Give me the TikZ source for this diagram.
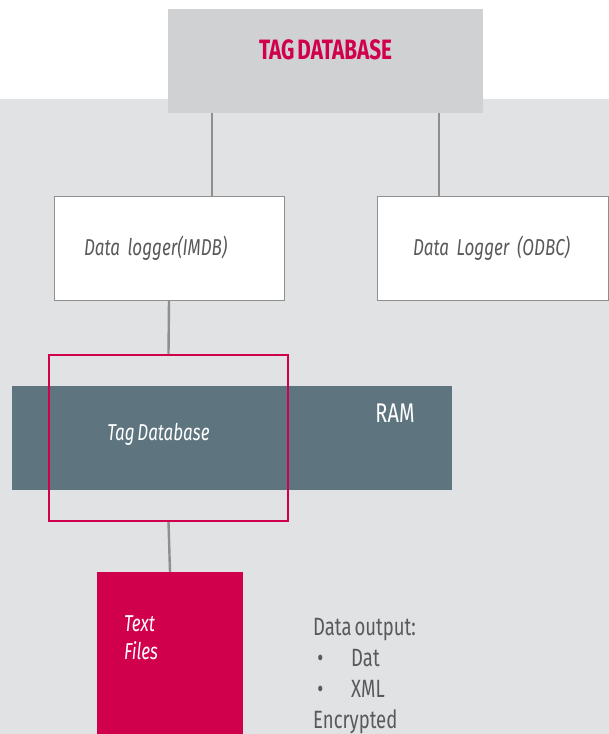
\documentclass[tikz,border=0pt]{standalone}
\usepackage{fontspec}
\setmainfont[FakeStretch=0.74,WordSpace=0.6]{Fira Sans}
\usepackage{xcolor}
\usepackage{tikz}
\usetikzlibrary{positioning}
\definecolor{Crimson}{HTML}{D1004C}
\definecolor{TopGrey}{HTML}{D0D1D3}
\definecolor{PanelGrey}{HTML}{E1E2E4}
\definecolor{RamSlate}{HTML}{5E7580}
\definecolor{WireGrey}{HTML}{8F8F8F}
\definecolor{TextGrey}{HTML}{58595B}

\begin{document}
\begin{tikzpicture}[x=1pt,y=-1pt,
    bx/.style={rectangle,inner sep=0pt,minimum width=#1},
    logbox/.style={bx=230pt,minimum height=104pt,fill=white,draw=WireGrey,line width=0.8pt,
               text=TextGrey,align=left,font=\fontsize{23}{28}\selectfont\itshape},
    lbl/.style={inner sep=0pt,font=\fontsize{#1}{#1}\selectfont},
    ilbl/.style={inner sep=0pt,font=\fontsize{#1}{#1}\selectfont\itshape},
    wire/.style={line width=2.4pt,WireGrey}]
\useasboundingbox (0,0) rectangle (609,734);
\fill[PanelGrey] (0,99) rectangle (609,734);
% top box
\node[bx=315pt,minimum height=104pt,fill=TopGrey] (top) at (325.5,61) {};
\node[inner sep=0pt,font=\fontsize{28}{28}\selectfont\bfseries,text=Crimson] (title) at ([yshift=11]top.center) {TAG DATABASE};
% loggers
\node[logbox,inner xsep=30pt,text width=170pt] (log1) at (169,248) {Data logger(IMDB)};
\node[logbox,minimum width=231pt,inner xsep=36pt,text width=159pt] (log2) at (492.5,248) {Data Logger (ODBC)};
\draw[wire] ([xshift=-113.5]top.south) -- ([xshift=43]log1.north);
\draw[wire] ([xshift=113.5]top.south) -- ([xshift=-53.5]log2.north);
% ram + tag database
\node[bx=440pt,minimum height=104pt,fill=RamSlate] (ram) at (232,438) {};
\node[lbl=27,text=white] (ramtxt) at (395,413) {RAM};
\node[bx=239pt,minimum height=166pt,draw=Crimson,line width=2pt] (frame) at (168.5,438) {};
\node[ilbl=23,text=white] (tagdb) at (158.5,434) {Tag Database};
\draw[wire] (log1.south) -- (frame.north);
% files
\node[bx=146pt,minimum height=162pt,fill=Crimson] (files) at (170,653) {};
\node[text=white,inner sep=0pt,font=\fontsize{23}{28}\selectfont\itshape,align=left,anchor=west] (filetxt) at (124,638) {Text\\Files};
\draw[wire] (frame.south) -- (files.north);
\node[text=TextGrey,inner sep=0pt,font=\fontsize{25}{31}\selectfont,align=left,anchor=west] (out) at (313,676)
  {Data output:\\\makebox[38pt][l]{\,•}Dat\\\makebox[38pt][l]{\,•}XML\\Encrypted};
\end{tikzpicture}
\end{document}
